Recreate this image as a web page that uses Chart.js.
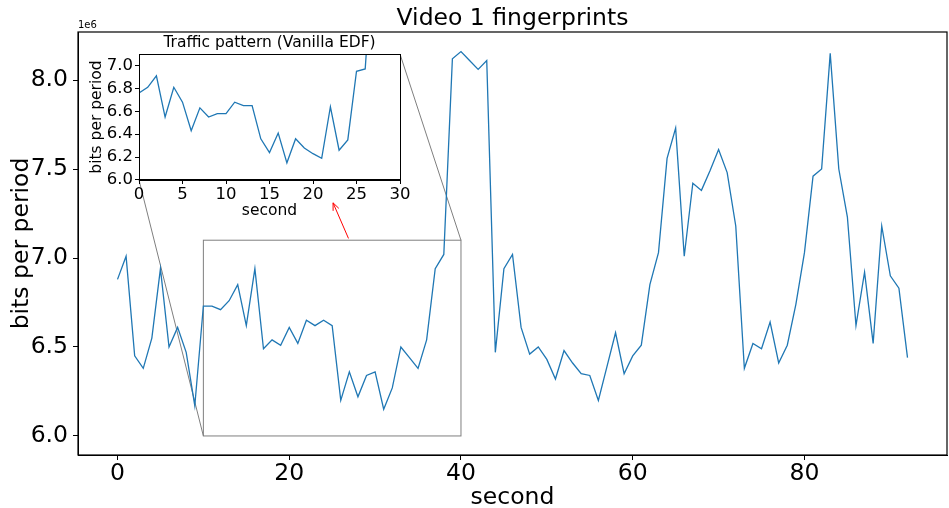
<!DOCTYPE html>
<html>
<head>
<meta charset="utf-8">
<script src="https://cdn.jsdelivr.net/npm/chart.js@4.4.1/dist/chart.umd.min.js"></script>
<style>
  html, body { margin: 0; padding: 0; background: #fff; }
  #wrap { position: relative; width: 949px; height: 508px; }
  #wrap canvas { position: absolute; left: 0; top: 0; }
</style>
</head>
<body>
<div id="wrap">
  <canvas id="mainChart" width="949" height="508"></canvas>
  <canvas id="insetChart" width="949" height="508"></canvas>
</div>
<script>
// bits per period (x1e6), one value per second, 0..92
const videoBits = [
  6.88, 7.01, 6.45, 6.38, 6.55, 6.94, 6.50, 6.61, 6.47, 6.17,
  6.73, 6.73, 6.71, 6.76, 6.85, 6.62, 6.94, 6.49, 6.54, 6.51,
  6.61, 6.52, 6.65, 6.62, 6.65, 6.62, 6.20, 6.36, 6.22, 6.34,
  6.36, 6.15, 6.27, 6.50, 6.44, 6.38, 6.54, 6.94, 7.02, 8.12,
  8.16, 8.11, 8.06, 8.11, 6.47, 6.94, 7.02, 6.61, 6.46, 6.50,
  6.43, 6.32, 6.48, 6.41, 6.35, 6.34, 6.20, 6.39, 6.58, 6.35,
  6.45, 6.51, 6.85, 7.03, 7.56, 7.73, 7.01, 7.42, 7.38, 7.49,
  7.61, 7.48, 7.18, 6.38, 6.52, 6.49, 6.64, 6.41, 6.51, 6.74,
  7.03, 7.46, 7.50, 8.15, 7.50, 7.23, 6.62, 6.92, 6.52, 7.18,
  6.90, 6.83, 6.44
];

// inset: traffic pattern (Vanilla EDF), x1e6
const vanillaBits = [
  6.76, 6.81, 6.91, 6.55, 6.81, 6.68, 6.43, 6.63, 6.55, 6.58,
  6.58, 6.68, 6.65, 6.65, 6.36, 6.24, 6.41, 6.15, 6.36, 6.28,
  6.23, 6.19, 6.64, 6.26, 6.35, 6.95, 6.97, 8.10
];

const mainXTicks = [0, 20, 40, 60, 80];
const mainYTicks = [6.0, 6.5, 7.0, 7.5, 8.0];
const insetXTicks = [0, 5, 10, 15, 20, 25, 30];
const insetYTicks = [6.0, 6.2, 6.4, 6.6, 6.8, 7.0];

// zoomed region (seconds / 1e6 bits) and the arrow annotation
const zoomX = [10, 40];
const zoomY = [6.0, 7.1];
const arrowTail = [26.9, 7.11];
const arrowHead = [25.1, 7.31];

const FONT = 'DejaVu Sans';
const LINE_BLUE = '#1f77b4';
Chart.defaults.color = '#000';
Chart.defaults.font.family = FONT;

const toPoints = arr => arr.map((v, i) => ({ x: i, y: v }));
const fixTicks = list => scale => { scale.ticks = list.map(v => ({ value: v })); };

// white face + black frame for the inset axes
const insetFrame = {
  id: 'insetFrame',
  beforeDraw(chart) {
    const { ctx, chartArea: a } = chart;
    ctx.save();
    ctx.fillStyle = '#fff';
    ctx.fillRect(a.left, a.top, a.right - a.left, a.bottom - a.top);
    ctx.restore();
  },
  afterDraw(chart) {
    const { ctx, chartArea: a } = chart;
    ctx.save();
    ctx.strokeStyle = '#000';
    ctx.lineWidth = 1;
    ctx.strokeRect(Math.round(a.left) + 0.5, Math.round(a.top) + 0.5,
      Math.round(a.right - a.left), Math.round(a.bottom - a.top));
    ctx.restore();
  }
};

const insetChart = new Chart(document.getElementById('insetChart'), {
  type: 'line',
  data: {
    datasets: [{
      data: toPoints(vanillaBits),
      borderColor: LINE_BLUE,
      borderWidth: 1.3,
      pointRadius: 0,
      tension: 0
    }]
  },
  options: {
    responsive: false,
    animation: false,
    events: [],
    layout: { padding: { left: 80, right: 549, top: 29.5, bottom: 283 } },
    plugins: {
      legend: { display: false },
      tooltip: { enabled: false },
      title: {
        display: true,
        fullSize: false,
        text: 'Traffic pattern (Vanilla EDF)',
        color: '#000',
        font: { size: 15.5, weight: 'normal', family: FONT, lineHeight: 1.2 },
        padding: { top: 4.5, bottom: 1.5 }
      }
    },
    scales: {
      x: {
        type: 'linear',
        min: 0, max: 30,
        afterBuildTicks: fixTicks(insetXTicks),
        afterFit: s => { s.height = 45; },
        grid: { drawOnChartArea: false, drawTicks: true, tickLength: 4, color: '#000' },
        border: { display: true, color: '#000' },
        ticks: { font: { size: 16.5 }, padding: 1, maxRotation: 0 },
        title: { display: true, text: 'second', font: { size: 15.5, lineHeight: 1 }, padding: { top: 0, bottom: 6.5 } }
      },
      y: {
        type: 'linear',
        min: 6.0, max: 7.1,
        afterBuildTicks: fixTicks(insetYTicks),
        afterFit: s => { s.width = 59; },
        grid: { drawOnChartArea: false, drawTicks: true, tickLength: 4, color: '#000' },
        border: { display: true, color: '#000' },
        ticks: { font: { size: 16.5 }, padding: 2, callback: v => v.toFixed(1) },
        title: { display: true, text: 'bits per period', font: { size: 15.5, lineHeight: 1 }, padding: { top: 8.75, bottom: 0 } }
      }
    }
  },
  plugins: [insetFrame]
});

// zoom box, connector lines, red arrow, axes frame and the 1e6 offset label
const mainDecor = {
  id: 'mainDecor',
  beforeDatasetsDraw(chart) {
    const { ctx, scales: { x, y } } = chart;
    const x0 = x.getPixelForValue(zoomX[0]), x1 = x.getPixelForValue(zoomX[1]);
    const y0 = y.getPixelForValue(zoomY[0]), y1 = y.getPixelForValue(zoomY[1]);
    const ia = insetChart.chartArea;
    ctx.save();
    ctx.strokeStyle = '#7f7f7f';
    ctx.lineWidth = 1;
    ctx.strokeRect(x0, y1, x1 - x0, y0 - y1);
    ctx.beginPath();
    ctx.moveTo(ia.left, ia.bottom);
    ctx.lineTo(x0, y0);
    ctx.moveTo(ia.right, ia.top);
    ctx.lineTo(x1, y1);
    ctx.stroke();
    ctx.restore();
  },
  afterDatasetsDraw(chart) {
    const { ctx, scales: { x, y } } = chart;
    const tx = x.getPixelForValue(arrowTail[0]), ty = y.getPixelForValue(arrowTail[1]);
    const hx = x.getPixelForValue(arrowHead[0]), hy = y.getPixelForValue(arrowHead[1]);
    const ang = Math.atan2(ty - hy, tx - hx);
    const len = 8, spread = 0.4;
    ctx.save();
    ctx.strokeStyle = '#ff0000';
    ctx.lineWidth = 1;
    ctx.beginPath();
    ctx.moveTo(tx, ty);
    ctx.lineTo(hx, hy);
    ctx.moveTo(hx + len * Math.cos(ang - spread), hy + len * Math.sin(ang - spread));
    ctx.lineTo(hx, hy);
    ctx.lineTo(hx + len * Math.cos(ang + spread), hy + len * Math.sin(ang + spread));
    ctx.stroke();
    ctx.restore();
  },
  afterDraw(chart) {
    const { ctx, chartArea: a } = chart;
    ctx.save();
    ctx.strokeStyle = '#000';
    ctx.lineWidth = 1.2;
    ctx.strokeRect(a.left, a.top, a.right - a.left, a.bottom - a.top);
    ctx.fillStyle = '#000';
    ctx.font = '10px ' + FONT;
    ctx.textBaseline = 'bottom';
    ctx.textAlign = 'left';
    ctx.fillText('1e6', a.left, a.top - 2);
    ctx.restore();
  }
};

const mainChart = new Chart(document.getElementById('mainChart'), {
  type: 'line',
  data: {
    datasets: [{
      data: toPoints(videoBits),
      borderColor: LINE_BLUE,
      borderWidth: 1.3,
      pointRadius: 0,
      tension: 0
    }]
  },
  options: {
    responsive: false,
    animation: false,
    events: [],
    layout: { padding: { left: 0, right: 2, top: 0, bottom: 0 } },
    plugins: {
      legend: { display: false },
      tooltip: { enabled: false },
      title: {
        display: true,
        fullSize: false,
        text: 'Video 1 fingerprints',
        color: '#000',
        font: { size: 23.5, weight: 'normal', family: FONT, lineHeight: 1.1 },
        padding: { top: 6.15, bottom: 0 }
      }
    },
    scales: {
      x: {
        type: 'linear',
        min: -4.6, max: 96.6,
        afterBuildTicks: fixTicks(mainXTicks),
        afterFit: s => { s.height = 53; },
        grid: { drawOnChartArea: false, drawTicks: true, tickLength: 5, color: '#000' },
        border: { display: true, color: '#000' },
        ticks: { font: { size: 23.5 }, padding: 0, maxRotation: 0 },
        title: { display: true, text: 'second', font: { size: 23.5, lineHeight: 1 }, padding: { top: 0, bottom: -1.5 } }
      },
      y: {
        type: 'linear',
        min: 5.893, max: 8.270,
        afterBuildTicks: fixTicks(mainYTicks),
        afterFit: s => { s.width = 78; },
        grid: { drawOnChartArea: false, drawTicks: true, tickLength: 5, color: '#000' },
        border: { display: true, color: '#000' },
        ticks: { font: { size: 23.5 }, padding: 5, callback: v => v.toFixed(1) },
        title: { display: true, text: 'bits per period', font: { size: 23.5, lineHeight: 1 }, padding: { top: 10.5, bottom: 0 } }
      }
    }
  },
  plugins: [mainDecor]
});
</script>
</body>
</html>
